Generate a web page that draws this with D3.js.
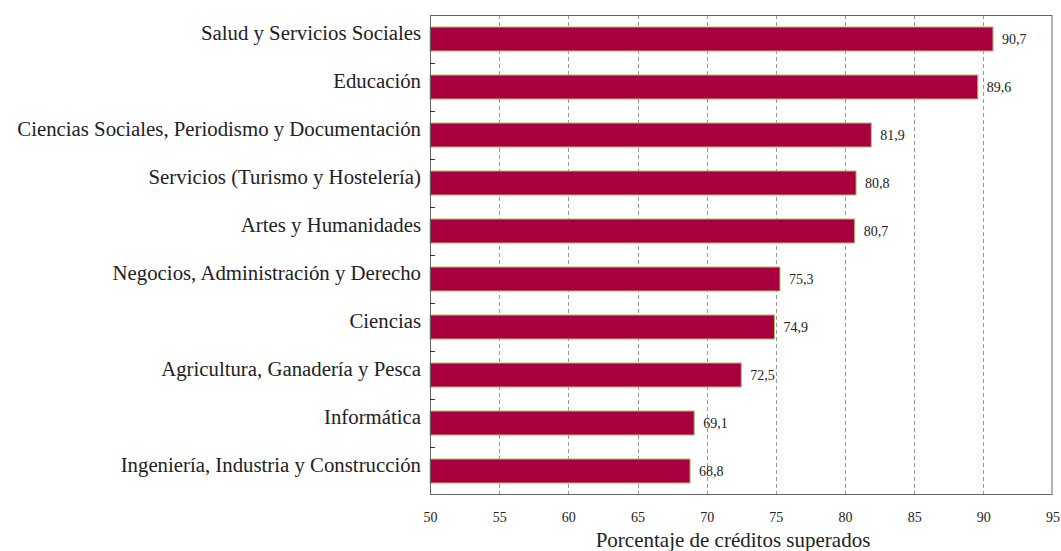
<!DOCTYPE html>
<html><head><meta charset="utf-8">
<script src="https://cdn.jsdelivr.net/npm/d3@7"></script>
<style>html,body{margin:0;padding:0;background:#fff;}svg{display:block;}</style>
</head><body>
<svg id="chart" width="1061" height="551"></svg>
<script>
const categories = [
  "Salud y Servicios Sociales",
  "Educación",
  "Ciencias Sociales, Periodismo y Documentación",
  "Servicios (Turismo y Hostelería)",
  "Artes y Humanidades",
  "Negocios, Administración y Derecho",
  "Ciencias",
  "Agricultura, Ganadería y Pesca",
  "Informática",
  "Ingeniería, Industria y Construcción"
];
const values = [90.7, 89.6, 81.9, 80.8, 80.7, 75.3, 74.9, 72.5, 69.1, 68.8];
const xTicks = [50, 55, 60, 65, 70, 75, 80, 85, 90, 95];
const xTitle = "Porcentaje de créditos superados";

const font = "'Liberation Serif', 'DejaVu Serif', serif";
const svg = d3.select("#chart");
const L = 430, R = 1052.5, T = 15, B = 495;

const x = d3.scaleLinear().domain([50, 95]).range([L, R]);
const y = d3.scaleBand().domain(categories).range([T, B]).paddingInner(0.5).paddingOuter(0.25);
const yb = d3.scaleBand().domain(categories).range([T, B]);

// grid
svg.append("g").selectAll("line").data(xTicks.filter(d => d > 50 && d < 95)).join("line")
  .attr("x1", d => Math.round(x(d)) + 0.5).attr("x2", d => Math.round(x(d)) + 0.5)
  .attr("y1", T).attr("y2", B)
  .attr("stroke", "#999").attr("stroke-width", 1).attr("stroke-dasharray", "4,3");

// bars
svg.append("g").selectAll("rect").data(categories).join("rect")
  .attr("x", L).attr("y", d => y(d))
  .attr("width", (d, i) => x(values[i]) - L)
  .attr("height", y.bandwidth())
  .attr("fill", "#A8003F").attr("stroke", "#B5B86A").attr("stroke-width", 1);

// value labels
svg.append("g").selectAll("text").data(categories).join("text")
  .attr("x", (d, i) => x(values[i]) + 9)
  .attr("y", d => y(d) + y.bandwidth() / 2 + 5)
  .attr("font-family", font).attr("font-size", 14).attr("fill", "#222")
  .text((d, i) => values[i].toFixed(1).replace(".", ","));

// frame
svg.append("rect").attr("x", L + 0.5).attr("y", T + 0.5)
  .attr("width", R - L - 1).attr("height", B - T - 1)
  .attr("fill", "none").attr("stroke", "#666").attr("stroke-width", 1);

// y ticks at band boundaries (inward)
svg.append("g").selectAll("line").data(categories.slice(1)).join("line")
  .attr("x1", L).attr("x2", L + 5)
  .attr("y1", d => Math.round(yb(d)) + 0.5).attr("y2", d => Math.round(yb(d)) + 0.5)
  .attr("stroke", "#333");

// category labels
svg.append("g").selectAll("text").data(categories).join("text")
  .attr("x", 421).attr("y", d => y(d) + y.bandwidth() / 2 + 1)
  .attr("text-anchor", "end")
  .attr("font-family", font).attr("font-size", 20.8).attr("fill", "#222")
  .text(d => d);

// x axis
const xAxis = d3.axisBottom(x).tickValues(xTicks).tickSize(0).tickPadding(0).tickFormat(d3.format("d"));
const gx = svg.append("g").attr("transform", `translate(0,${B})`).call(xAxis);
gx.select(".domain").remove();
gx.selectAll("text").attr("y", 27).attr("dy", 0)
  .attr("font-family", font).attr("font-size", 14).attr("fill", "#222");

svg.append("text").attr("x", 733).attr("y", 547).attr("text-anchor", "middle")
  .attr("font-family", font).attr("font-size", 21).attr("fill", "#222").text(xTitle);
</script>
</body></html>
